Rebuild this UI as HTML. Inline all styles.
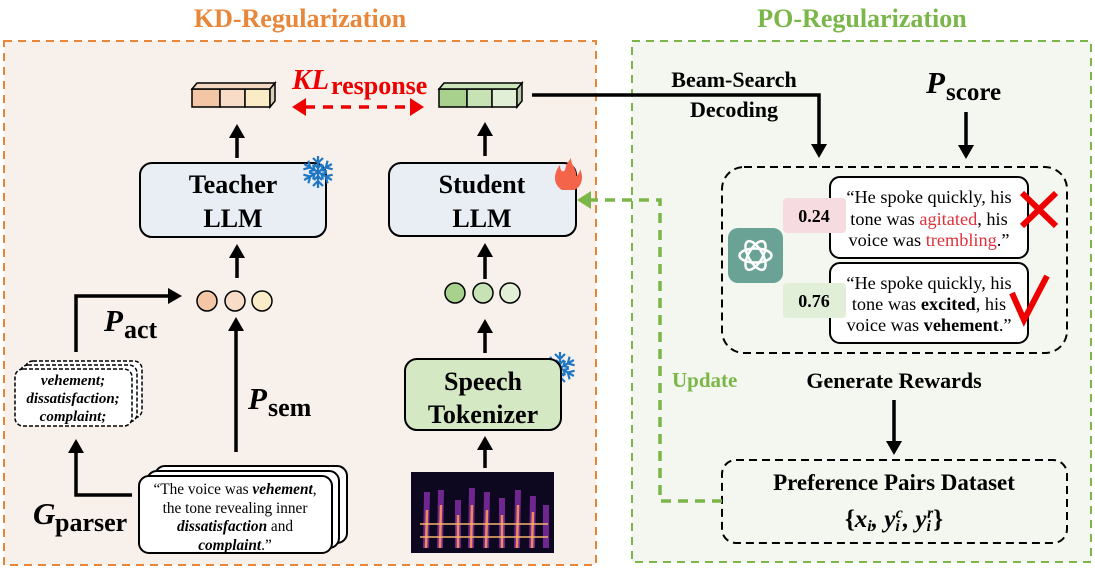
<!DOCTYPE html>
<html><head><meta charset="utf-8"><style>
body{margin:0;background:#fff}
svg{display:block}
text{font-family:"Liberation Serif",serif}
</style></head><body>
<svg width="1095" height="570" viewBox="0 0 1095 570" xmlns="http://www.w3.org/2000/svg">
<defs>
<marker id="ah" markerWidth="16" markerHeight="16" refX="4" refY="8" orient="auto" markerUnits="userSpaceOnUse"><path d="M0,0 L14,8 L0,16 z" fill="#000"/></marker>
<g id="flake" stroke="#1f77c4" stroke-width="2.2" fill="none">
<g id="arm"><line x1="0" y1="0" x2="0" y2="-16"/><path d="M-5,-14 L0,-9 L5,-14 M-4,-8 L0,-4 L4,-8"/></g>
<use href="#arm" transform="rotate(60)"/><use href="#arm" transform="rotate(120)"/><use href="#arm" transform="rotate(180)"/><use href="#arm" transform="rotate(240)"/><use href="#arm" transform="rotate(300)"/>
</g>
</defs>
<rect x="4" y="41" width="592" height="524" fill="#f8f0ea" stroke="#e8873a" stroke-width="2" stroke-dasharray="8,6"/>
<rect x="632" y="41" width="459" height="521" fill="#f4f7f0" stroke="#7ab648" stroke-width="2" stroke-dasharray="8,6"/>
<text x="300" y="27" text-anchor="middle" font-size="26" font-weight="bold" fill="#e8873a">KD-Regularization</text>
<text x="862" y="27" text-anchor="middle" font-size="26" font-weight="bold" fill="#7ab648">PO-Regularization</text>

<g stroke="#000" stroke-width="1.5">
<rect x="192" y="89" width="28" height="18" fill="#f3c7a6"/><rect x="220" y="89" width="25" height="18" fill="#f8dcc8"/><rect x="245" y="89" width="25" height="18" fill="#fbecc8"/>
<path d="M192,89 l5,-6 h78 l-5,6 z" fill="#f5d8c2"/><path d="M270,89 l5,-6 v18 l-5,6 z" fill="#d8d0b8"/>
<rect x="439" y="89" width="28" height="18" fill="#a9d18e"/><rect x="467" y="89" width="25" height="18" fill="#c7e2b4"/><rect x="492" y="89" width="25" height="18" fill="#e1efd6"/>
<path d="M439,89 l5,-6 h78 l-5,6 z" fill="#cde5bd"/><path d="M517,89 l5,-6 v18 l-5,6 z" fill="#b8c8ad"/>
</g>
<text x="292" y="89" font-size="29" font-weight="bold" font-style="italic" fill="#e00">KL</text>
<text x="331" y="94" font-size="26" font-weight="bold" fill="#e00">response</text>
<line x1="305" y1="107" x2="411" y2="107" stroke="#e00" stroke-width="3.5" stroke-dasharray="10,8"/>
<path d="M292,107 l14,-9 v18 z M424,107 l-14,-9 v18 z" fill="#e00"/>

<rect x="140" y="163" width="186" height="74" rx="12" fill="#e9eef5" stroke="#000" stroke-width="2"/>
<text x="233" y="193" text-anchor="middle" font-size="26" font-weight="bold">Teacher</text>
<text x="233" y="227" text-anchor="middle" font-size="26" font-weight="bold">LLM</text>
<rect x="389" y="163" width="187" height="73" rx="12" fill="#e9eef5" stroke="#000" stroke-width="2"/>
<text x="482" y="193" text-anchor="middle" font-size="26" font-weight="bold">Student</text>
<text x="482" y="227" text-anchor="middle" font-size="26" font-weight="bold">LLM</text>
<use href="#flake" x="318" y="172"/>
<use href="#flake" x="560" y="368"/>
<path d="M562,190 c-10,-6 -8,-18 -2,-25 c0,6 3,8 5,5 c1,-5 3,-8 6,-12 c0,8 6,10 5,18 c3,-2 4,-5 4,-7 c4,8 2,18 -6,21 z" fill="#f4644a"/>

<g stroke="#000" stroke-width="3.5" fill="none" marker-end="url(#ah)">
<line x1="237" y1="158" x2="237" y2="134"/>
<line x1="485" y1="156" x2="485" y2="132"/>
<line x1="237" y1="278" x2="237" y2="254"/>
<line x1="485" y1="279" x2="485" y2="253"/>
<line x1="485" y1="353" x2="485" y2="329"/>
<line x1="485" y1="468" x2="485" y2="446"/>
<line x1="236" y1="452" x2="236" y2="327"/>
<path d="M76,352 V296 H172"/>
<path d="M132,495 H76 V449"/>
<path d="M532,95 H819 V148"/>
<line x1="966" y1="112" x2="966" y2="149"/>
<line x1="894" y1="400" x2="894" y2="445"/>
</g>

<g stroke="#000" stroke-width="1.5">
<circle cx="207" cy="301" r="10" fill="#f3c7a6"/><circle cx="235" cy="301" r="10" fill="#f8dcc8"/><circle cx="262" cy="301" r="10" fill="#fbecc8"/>
<circle cx="455" cy="293" r="10" fill="#a9d18e"/><circle cx="483" cy="293" r="10" fill="#c7e2b4"/><circle cx="510" cy="293" r="10" fill="#e1efd6"/>
</g>

<text x="104" y="331" font-size="31" font-weight="bold" font-style="italic">P</text>
<text x="124" y="338" font-size="26" font-weight="bold">act</text>
<text x="248" y="409" font-size="31" font-weight="bold" font-style="italic">P</text>
<text x="268" y="416" font-size="26" font-weight="bold">sem</text>
<text x="33" y="524" font-size="31" font-weight="bold" font-style="italic">G</text>
<text x="55" y="531" font-size="26" font-weight="bold">parser</text>

<g stroke="#000" stroke-width="1.5" stroke-dasharray="4,2" fill="#fff">
<rect x="25" y="361" width="117" height="57" rx="8"/>
<rect x="20" y="365" width="117" height="57" rx="8"/>
<rect x="15" y="369" width="117" height="57" rx="8"/>
</g>
<g font-size="15" font-weight="bold" font-style="italic" text-anchor="middle">
<text x="73" y="385">vehement;</text><text x="73" y="403">dissatisfaction;</text><text x="73" y="421">complaint;</text>
</g>

<g stroke="#000" stroke-width="2" fill="#fff">
<rect x="155" y="466" width="192" height="77" rx="10"/>
<rect x="147" y="471" width="192" height="77" rx="10"/>
<rect x="139" y="476" width="193" height="77" rx="10"/>
</g>
<g font-size="15.3" text-anchor="middle">
<text x="235" y="494">“The voice was <tspan font-weight="bold" font-style="italic">vehement</tspan>,</text>
<text x="235" y="513">the tone revealing inner</text>
<text x="235" y="531"><tspan font-weight="bold" font-style="italic">dissatisfaction</tspan> and</text>
<text x="235" y="550"><tspan font-weight="bold" font-style="italic">complaint</tspan>.”</text>
</g>

<rect x="405" y="359" width="156" height="71" rx="12" fill="#d5e8c4" stroke="#000" stroke-width="2"/>
<text x="483" y="390" text-anchor="middle" font-size="26" font-weight="bold">Speech</text>
<text x="483" y="423" text-anchor="middle" font-size="26" font-weight="bold">Tokenizer</text>
<rect x="411" y="472" width="143" height="81" fill="#0d0820"/>
<g stroke="#7a2a9a" stroke-width="6" opacity="0.9">
<line x1="426" y1="548" x2="427" y2="492"/><line x1="440" y1="548" x2="441" y2="490"/><line x1="458" y1="548" x2="458" y2="500"/><line x1="471" y1="548" x2="472" y2="488"/><line x1="486" y1="548" x2="487" y2="492"/><line x1="502" y1="548" x2="502" y2="498"/><line x1="517" y1="548" x2="518" y2="490"/><line x1="532" y1="548" x2="533" y2="496"/><line x1="546" y1="548" x2="546" y2="505"/>
</g>
<g stroke="#f08a5a" stroke-width="2.5">
<line x1="426" y1="548" x2="427" y2="510"/><line x1="440" y1="548" x2="441" y2="505"/><line x1="458" y1="548" x2="458" y2="515"/><line x1="471" y1="548" x2="472" y2="505"/><line x1="486" y1="548" x2="487" y2="510"/><line x1="502" y1="548" x2="502" y2="515"/><line x1="517" y1="548" x2="518" y2="505"/><line x1="532" y1="548" x2="533" y2="512"/>
</g>
<g stroke="#f5b36b" stroke-width="1.5"><line x1="420" y1="537" x2="548" y2="537"/><line x1="420" y1="524" x2="548" y2="524"/></g>

<text x="734" y="87" text-anchor="middle" font-size="22" font-weight="bold">Beam-Search</text>
<text x="734" y="117" text-anchor="middle" font-size="22" font-weight="bold">Decoding</text>
<text x="926" y="93" font-size="31" font-weight="bold" font-style="italic">P</text>
<text x="946" y="100" font-size="25" font-weight="bold">score</text>

<rect x="722" y="167" width="345" height="186" rx="22" fill="none" stroke="#000" stroke-width="2" stroke-dasharray="8,5"/>
<rect x="830" y="177" width="198" height="81" rx="10" fill="#fff" stroke="#000" stroke-width="2"/>
<rect x="830" y="263" width="198" height="80" rx="10" fill="#fff" stroke="#000" stroke-width="2"/>
<rect x="783" y="198" width="63" height="35" rx="4" fill="#f6dbe0"/>
<rect x="783" y="283" width="63" height="35" rx="4" fill="#e1efd9"/>
<text x="814" y="222" text-anchor="middle" font-size="18" font-weight="bold">0.24</text>
<text x="814" y="307" text-anchor="middle" font-size="18" font-weight="bold">0.76</text>
<g font-size="18.3" text-anchor="middle">
<text x="929" y="203">“He spoke quickly, his</text>
<text x="929" y="225">tone was <tspan fill="#e0303a">agitated</tspan>, his</text>
<text x="929" y="246">voice was <tspan fill="#e0303a">trembling</tspan>.”</text>
<text x="929" y="289">“He spoke quickly, his</text>
<text x="929" y="310">tone was <tspan font-weight="bold">excited</tspan>, his</text>
<text x="929" y="331">voice was <tspan font-weight="bold">vehement</tspan>.”</text>
</g>
<rect x="728" y="228" width="55" height="55" rx="10" fill="#6aa395"/>
<g fill="none" stroke="#fff" stroke-width="2.5">
<ellipse cx="755.5" cy="255.5" rx="16" ry="7"/><ellipse cx="755.5" cy="255.5" rx="16" ry="7" transform="rotate(60 755.5 255.5)"/><ellipse cx="755.5" cy="255.5" rx="16" ry="7" transform="rotate(120 755.5 255.5)"/>
</g>
<path d="M1022,193 L1056,226 M1056,193 L1022,226" stroke="#e00" stroke-width="6"/>
<path d="M1012,293 L1024,320 L1047,276" fill="none" stroke="#e00" stroke-width="6"/>

<text x="894" y="388" text-anchor="middle" font-size="22" font-weight="bold">Generate Rewards</text>
<text x="672" y="387" font-size="21" font-weight="bold" fill="#7ab648">Update</text>

<rect x="722" y="460" width="345" height="83" rx="14" fill="none" stroke="#000" stroke-width="2" stroke-dasharray="8,5"/>
<text x="894" y="490" text-anchor="middle" font-size="23" font-weight="bold">Preference Pairs Dataset</text>
<text x="894" y="527" text-anchor="middle" font-size="25" font-weight="bold">{<tspan font-style="italic">x<tspan font-size="16" dy="4">i</tspan><tspan dy="-4">, y</tspan><tspan font-size="16" dy="4">i</tspan><tspan font-size="16" dy="-13" dx="-4">c</tspan><tspan dy="9">, y</tspan><tspan font-size="16" dy="4">i</tspan><tspan font-size="16" dy="-13" dx="-4">r</tspan></tspan><tspan dy="9">}</tspan></text>

<path d="M722,501 H660 V200 H590" fill="none" stroke="#7ab648" stroke-width="3.5" stroke-dasharray="10,7"/>
<path d="M577,200 l14,-9 v18 z" fill="#7ab648"/>
</svg>
</body></html>
